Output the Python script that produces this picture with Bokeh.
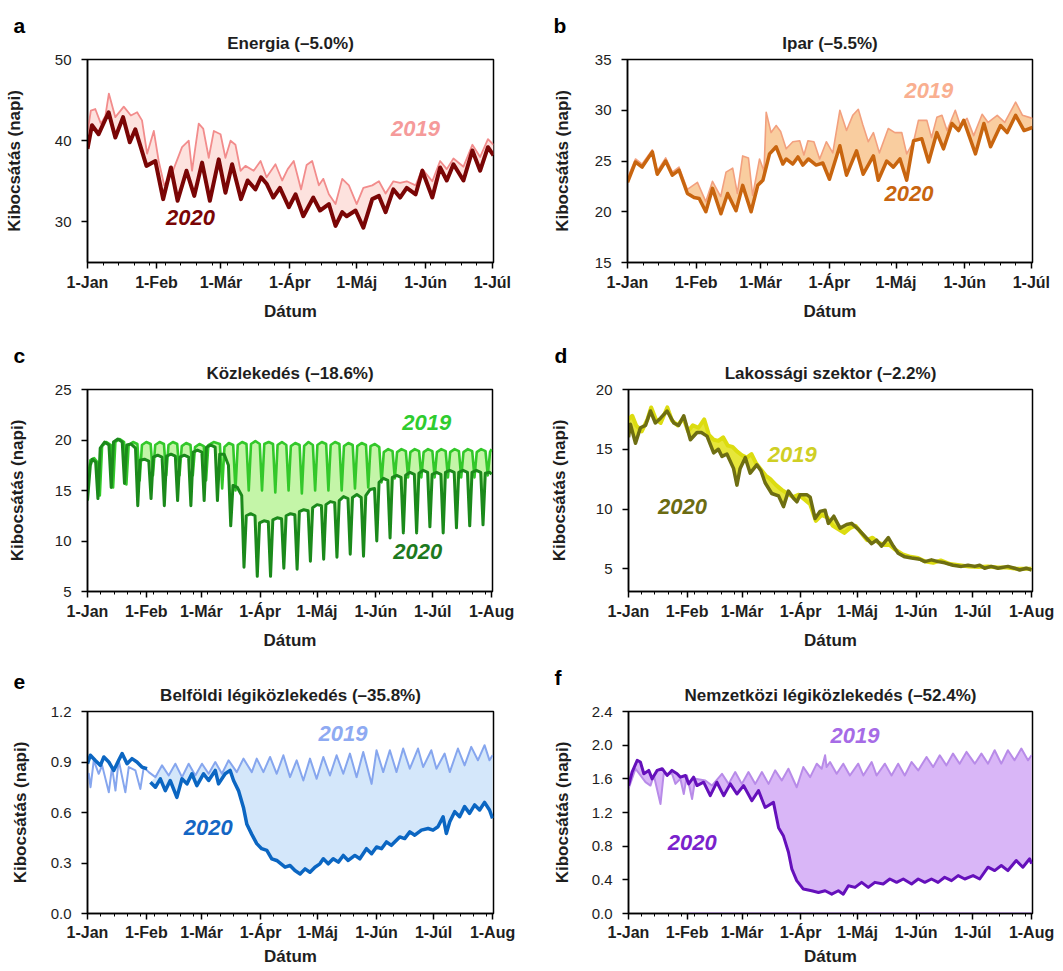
from bokeh.plotting import figure
from bokeh.layouts import column, row
from bokeh.models import FixedTicker, Label, Range1d, PrintfTickFormatter, Title
from bokeh.embed import file_html
from bokeh.resources import INLINE

FONT = "Liberation Sans"

MONTH_DAYS = [0, 31, 60, 91, 121, 152, 182, 213]
MONTH_LABELS = ["1-Jan", "1-Feb", "1-Már", "1-Ápr", "1-Máj", "1-Jún", "1-Júl", "1-Aug"]

# ---------------- a: Energia ----------------
A_DAY_2020 = [0, 2, 5, 9.5, 12.5, 16, 19, 21.5, 26.5, 30.5, 34, 37.5, 40.5, 44.5, 48, 51.5, 55, 59, 62, 65,
              69, 72, 75.5, 78, 80.5, 83.5, 86.5, 90.5, 93.5, 97, 101.5, 104.5, 108.5, 111.5, 114.5, 116.5,
              120.5, 124, 128, 131, 134, 137.5, 140.5, 143.5, 147.5, 150.5, 155, 158.5, 161.5, 164.5, 169,
              173, 176.5, 180, 182.5]
A_VAL_2020 = [39.0, 41.9, 40.8, 43.5, 40.4, 42.9, 39.8, 41.4, 36.9, 37.5, 32.8, 36.7, 32.6, 36.3, 33.2, 37.3,
              32.6, 37.7, 33.6, 37.1, 32.8, 35.1, 34.0, 35.5, 34.7, 33.0, 34.2, 31.8, 33.4, 30.7, 33.0, 31.4,
              32.2, 29.5, 31.2, 30.7, 31.4, 29.3, 32.8, 33.2, 31.2, 34.0, 33.0, 34.2, 33.4, 36.3, 33.0, 36.7,
              35.1, 37.1, 35.1, 38.8, 36.3, 39.2, 38.2]
A_DAY_2019 = [0, 1.5, 3.5, 6, 8, 9.6, 12.5, 16.3, 19.5, 22.3, 24.5, 26.8, 29.8, 32, 34.5, 38, 42.5, 45.5, 47,
              50, 52, 54.5, 56.8, 59.8, 62, 64.3, 66.5, 68.8, 71, 74.7, 77.8, 80.5, 84.5, 87.5, 90, 92.7, 96,
              98.5, 101, 104, 106, 108.5, 111.5, 114.5, 117.5, 121, 124, 128, 131, 134, 137.5, 140.5, 143.5,
              147.5, 150.5, 155, 158.5, 161.5, 164.5, 169, 173, 176.5, 180, 182.5]
A_VAL_2019 = [41.0, 43.7, 43.9, 42.1, 43.0, 45.8, 42.9, 44.2, 43.1, 43.5, 42.5, 38.4, 41.2, 37.5, 34.5, 36.0,
              39.2, 40.0, 36.3, 42.1, 41.5, 37.9, 41.2, 40.8, 37.9, 40.0, 39.5, 36.3, 36.9, 36.3, 37.5, 35.5,
              37.1, 35.1, 36.5, 37.5, 34.0, 37.0, 37.5, 34.5, 35.3, 33.4, 32.2, 35.3, 34.5, 32.2, 34.2, 34.5,
              35.0, 33.5, 35.0, 34.8, 35.0, 34.5, 36.5, 35.0, 37.5, 36.5, 37.8, 36.8, 39.5, 38.0, 40.2, 39.5]

# ---------------- b: Ipar ----------------
B_DAY_2020 = [0, 3.6, 6.6, 11.2, 13.4, 17.2, 20.2, 23.2, 27, 30, 32.3, 35.3, 38.3, 42.1, 45.1, 48.9, 51.9,
              55.7, 58.7, 61, 64, 67, 70, 71.5, 74.5, 76.8, 79, 81.5, 85, 88, 91, 95.7, 98.7, 103.2, 106.2,
              110.8, 113, 116.8, 119.8, 122.8, 125.8, 128.9, 132.6, 135.7, 139.4, 142.4, 146.2, 149.2, 151.5,
              156.8, 160.6, 163.6, 168.1, 171.1, 174.9, 178.7, 182.5]
B_VAL_2020 = [22.9, 24.9, 24.4, 25.9, 23.7, 25.0, 23.6, 24.1, 21.8, 21.4, 21.3, 20.0, 22.3, 19.8, 21.8, 20.1,
              22.6, 20.0, 22.6, 23.1, 25.7, 26.4, 24.7, 25.2, 24.7, 25.4, 24.6, 25.2, 24.6, 24.8, 23.2, 26.5,
              23.6, 26.0, 23.7, 25.5, 23.1, 25.0, 24.4, 25.2, 23.1, 27.0, 27.2, 24.9, 27.8, 26.2, 28.7, 28.0,
              29.0, 25.7, 28.7, 26.4, 28.5, 27.8, 29.5, 28.0, 28.3]
B_DAY_2019 = [0, 3.6, 6.6, 11.2, 13.4, 17.2, 20.2, 23.2, 27, 31.5, 35.3, 38.3, 42, 44.4, 47.4, 49.5, 51.9,
              54.5, 56.4, 59.5, 61.5, 62.5, 64.7, 67, 69, 71.5, 74.5, 77.6, 79.5, 81.3, 84, 86.6, 89.6, 92.5,
              95.7, 98.7, 101.5, 104, 106, 108.5, 110.8, 113.5, 117.5, 120.5, 123.6, 125.8, 128.9, 131.1,
              134.9, 137, 139.4, 141.7, 144, 147.7, 150, 153, 156, 159.8, 162.5, 166.6, 170, 174.9, 178, 182.5]
B_VAL_2019 = [23.3, 25.2, 24.7, 26.1, 24.0, 25.3, 23.9, 24.4, 22.2, 22.9, 21.0, 23.0, 21.5, 23.9, 24.3, 21.8,
              25.5, 25.3, 21.6, 25.2, 24.0, 29.8, 27.8, 28.5, 27.9, 26.2, 26.9, 27.0, 25.6, 27.0, 26.9, 25.2,
              26.9, 25.8, 30.0, 28.0, 29.5, 30.1, 28.6, 26.9, 27.8, 25.8, 28.2, 27.8, 27.8, 25.7, 26.9, 29.0,
              29.0, 27.3, 29.3, 29.5, 28.0, 30.0, 28.5, 29.2, 27.5, 29.6, 28.8, 29.5, 28.8, 30.8, 29.5, 29.2]

# ---------------- c: Közlekedés ----------------
C_DAY_2020 = [0, 1.5, 2.5, 4.3,
              5.5, 6.7, 9, 11.3, 12.5, 13.7, 16, 18.3, 19.5, 20.7, 23, 25.3, 26.5, 27.7, 30, 32.3,
              33.5, 34.7, 37, 39.3, 40.5, 41.7, 44, 46.3, 47.5, 48.7, 51, 53.3, 54.5, 55.7, 58, 60.3,
              61.5, 62.7, 65, 67.3, 68.5, 69.7, 72, 74.3, 75.5, 76.7, 79, 81.3, 82.5, 83.7, 86, 88.3,
              89.5, 90.7, 93, 95.3, 96.5, 97.7, 100, 102.3, 103.5, 104.7, 107, 109.3, 110.5, 111.7, 114, 116.3,
              117.5, 118.7, 121, 123.3, 124.5, 125.7, 128, 130.3, 131.5, 132.7, 135, 137.3, 138.5, 139.7, 142, 144.3,
              145.5, 146.7, 149, 151.3, 152.5, 153.7, 156, 158.3, 159.5, 160.7, 163, 165.3, 166.5, 167.7, 170, 172.3,
              173.5, 174.7, 177, 179.3, 180.5, 181.7, 184, 186.3, 187.5, 188.7, 191, 193.3, 194.5, 195.7, 198, 200.3,
              201.5, 202.7, 205, 207.3, 208.5, 209.7, 212, 213]
C_VAL_2020 = [14.0, 17.5, 18.1, 17.8,
              14.2, 19.2, 19.8, 19.5, 15.3, 19.8, 20.1, 19.8, 15.7, 19.5, 19.6, 19.2, 13.5, 18.0, 18.1, 17.9,
              14.2, 18.3, 18.5, 18.3, 13.5, 18.4, 18.6, 18.4, 14.0, 18.3, 18.5, 18.3, 13.5, 18.8, 19.0, 18.8,
              14.0, 19.3, 19.5, 19.3, 14.0, 18.6, 18.6, 17.5, 11.5, 15.5, 15.3, 14.5, 7.4, 12.5, 12.7, 12.5,
              6.5, 11.8, 12.0, 11.9, 6.5, 12.1, 12.3, 12.2, 7.3, 12.5, 12.7, 12.6, 7.2, 12.9, 13.1, 13.0,
              8.0, 13.3, 13.6, 13.5, 8.2, 13.6, 13.9, 13.8, 8.4, 14.0, 14.4, 14.2, 8.7, 14.3, 14.6, 14.3,
              8.5, 14.5, 15.1, 15.2, 10.0, 15.8, 16.2, 16.0, 10.3, 16.3, 16.5, 16.3, 10.8, 16.5, 16.8, 16.6,
              10.8, 16.7, 17.0, 16.8, 11.4, 16.6, 16.8, 16.6, 10.8, 16.8, 17.0, 16.8, 11.3, 16.8, 17.0, 16.8,
              11.5, 16.8, 17.0, 16.8, 11.6, 16.7, 16.8, 16.6]
C_DAY_2019 = [0, 1.5, 3.5, 5.3,
              6.5, 7.7, 10, 12.3, 13.5, 14.7, 17, 19.3, 20.5, 21.7, 24, 26.3, 27.5, 28.7, 31, 33.3,
              34.5, 35.7, 38, 40.3, 41.5, 42.7, 45, 47.3, 48.5, 49.7, 52, 54.3, 55.5, 56.7, 59, 61.3,
              62.5, 63.7, 66.5, 69.8,
              71, 72.2, 74.5, 76.8, 78, 79.2, 81.5, 83.8, 85, 86.2, 88.5, 90.8, 92, 93.2, 95.5, 97.8,
              99, 100.2, 102.5, 104.8, 106, 107.2, 109.5, 111.8, 113, 114.2, 116.5, 118.8, 120, 121.2, 123.5, 125.8,
              127, 128.2, 130.5, 132.8, 134, 135.2, 137.5, 139.8, 141, 142.2, 144.5, 146.8, 148, 149.2, 151.5, 153.8,
              155, 156.2, 158.5, 160.8, 162, 163.2, 165.5, 167.8, 169, 170.2, 172.5, 174.8, 176, 177.2, 179.5, 181.8,
              183, 184.2, 186.5, 188.8, 190, 191.2, 193.5, 195.8, 197, 198.2, 200.5, 202.8, 204, 205.2, 207.5, 209.8,
              211, 212.2, 213]
C_VAL_2019 = [16.0, 18.0, 18.2, 17.8,
              14.5, 19.4, 19.8, 19.5, 15.3, 19.8, 20.1, 19.8, 15.6, 19.5, 19.8, 19.6, 16.0, 19.5, 19.8, 19.6,
              16.5, 19.5, 19.8, 19.6, 16.5, 19.5, 19.8, 19.6, 16.5, 19.4, 19.7, 19.5, 16.5, 19.3, 19.6, 19.4,
              16.0, 19.5, 19.8, 19.6,
              15.2, 19.3, 19.7, 19.5, 15.0, 19.5, 19.8, 19.6, 15.0, 19.6, 19.9, 19.6, 15.0, 19.6, 19.8, 19.6,
              14.8, 19.5, 19.8, 19.5, 15.0, 19.4, 19.7, 19.5, 14.7, 19.4, 19.8, 19.5, 15.0, 19.5, 19.8, 19.6,
              15.0, 19.5, 19.8, 19.6, 15.0, 19.4, 19.7, 19.5, 15.2, 19.4, 19.7, 19.5, 15.3, 19.4, 19.6, 19.3,
              15.8, 18.8, 19.1, 18.9, 16.2, 18.8, 19.1, 18.9, 16.3, 18.8, 19.1, 18.9, 16.3, 18.8, 19.1, 18.9,
              16.3, 18.8, 19.1, 18.9, 16.3, 18.8, 19.1, 18.9, 16.3, 18.8, 19.1, 18.9, 16.3, 18.8, 19.1, 18.9,
              16.5, 18.8, 19.1]

# ---------------- d: Lakossági szektor ----------------
D_DAY_2020 = [0, 1, 3.7, 6.3, 9, 11.6, 14.2, 16.9, 20.4, 23.9, 26.5, 29.2, 32.7, 36.2, 38.5, 41.5, 45, 47.5,
              49.4, 52, 55.5, 57.3, 59, 61.7, 64.3, 67.8, 70, 72.2, 75.7, 79.3, 81.9, 84.5, 87.2, 89, 90.7,
              94.2, 96, 98.6, 101.2, 103.9, 105.6, 108.5, 111.8, 115.3, 117.9, 121.5, 125, 128.5, 131.1,
              133.7, 137.3, 139.9, 142.5, 146, 149.6, 154, 156.6, 160.1, 163.6, 167.1, 171.5, 175.9, 179.4,
              183, 185.6, 188.2, 191.7, 195.3, 200.5, 204, 206.7, 210.2, 213]
D_VAL_2020 = [16.0, 17.1, 15.5, 16.8, 17.0, 18.2, 17.2, 17.6, 18.2, 17.2, 17.0, 17.8, 15.8, 16.4, 16.4, 16.1,
              14.7, 15.0, 14.4, 14.6, 13.4, 12.0, 13.4, 14.3, 13.0, 13.7, 13.2, 12.2, 11.3, 11.1, 10.2, 11.5,
              10.9, 10.6, 11.2, 11.2, 11.0, 9.2, 9.8, 9.9, 8.8, 9.4, 8.4, 8.7, 8.8, 8.3, 7.7, 7.1, 7.4, 6.9,
              7.6, 6.9, 6.3, 6.0, 5.9, 5.8, 5.6, 5.75, 5.6, 5.5, 5.3, 5.2, 5.3, 5.2, 5.3, 5.05, 5.2, 5.05,
              5.2, 5.05, 4.9, 5.05, 4.9]
D_DAY_2019 = [0, 2, 4, 7, 10, 12, 14.5, 17, 20.5, 23, 26, 29, 31.5, 34, 37, 40, 42.5, 45, 47.5, 50, 52.5, 55,
              57.5, 60, 62.5, 65, 67.5, 70, 72.5, 75, 78, 81, 84, 87, 90, 93, 96, 99, 102, 105, 108, 111, 114,
              117, 120, 123, 126, 129, 132, 135, 138, 141, 145, 149, 153, 157, 161, 165, 170, 175, 180, 185,
              190, 195, 200, 205, 210, 213]
D_VAL_2019 = [17.5, 17.8, 17.0, 16.5, 17.5, 18.5, 17.5, 17.2, 18.5, 17.4, 17.0, 17.6, 16.5, 17.0, 16.8, 17.5,
              16.2, 15.8, 15.7, 16.0, 15.3, 15.2, 14.8, 14.5, 14.3, 14.6, 13.8, 13.3, 12.8, 12.5, 12.0, 11.6,
              11.3, 11.0, 11.2, 10.8, 10.4, 9.0, 9.5, 9.3, 8.6, 8.3, 8.0, 8.4, 8.6, 8.0, 7.4, 7.6, 7.2, 7.0,
              7.0, 6.6, 6.2, 6.0, 5.9, 5.6, 5.5, 5.7, 5.4, 5.3, 5.2, 5.15, 5.2, 5.1, 5.1, 5.0, 5.0, 5.0]

# ---------------- e: Belföldi légiközlekedés ----------------
E_DAY_2020_JAN = [0, 1.5, 4, 6.8, 8.6, 11.2, 13.8, 16.4, 18.2, 20.8, 23.4, 26, 28.6, 31.3]
E_VAL_2020_JAN = [0.89, 0.94, 0.91, 0.88, 0.93, 0.90, 0.85, 0.91, 0.95, 0.89, 0.92, 0.90, 0.87, 0.86]
E_DAY_2020 = [33.1, 35.7, 38.3, 40.9, 43.5, 47.0, 49.7, 52.3, 54.9, 57.5, 61.0, 63.7, 67.2, 68.9, 72.4, 75.0,
              76.8, 79.4, 82.0, 83.8, 86.4, 89.0, 91.6, 94.3, 96.9, 99.5, 103.9, 106.5, 109.1, 111.8, 114.4,
              117.0, 119.6, 122.2, 124.0, 126.6, 129.2, 131.9, 134.5, 137.1, 140.6, 143.2, 146.7, 149.4, 152.0,
              154.6, 157.2, 159.8, 164.2, 166.8, 169.5, 172.1, 175.6, 179.1, 181.7, 184.3, 187.0, 188.7, 190.5,
              193.1, 195.7, 198.3, 200.9, 203.6, 206.2, 208.8, 211.4, 213.0]
E_VAL_2020 = [0.78, 0.75, 0.80, 0.73, 0.79, 0.69, 0.80, 0.77, 0.83, 0.76, 0.83, 0.79, 0.85, 0.77, 0.83, 0.85,
              0.79, 0.73, 0.63, 0.53, 0.47, 0.415, 0.385, 0.375, 0.325, 0.315, 0.275, 0.285, 0.255, 0.235, 0.265,
              0.245, 0.275, 0.295, 0.325, 0.295, 0.325, 0.305, 0.345, 0.315, 0.345, 0.325, 0.385, 0.355, 0.395,
              0.385, 0.425, 0.405, 0.455, 0.445, 0.485, 0.465, 0.495, 0.505, 0.495, 0.515, 0.575, 0.475, 0.545,
              0.605, 0.575, 0.635, 0.595, 0.645, 0.615, 0.66, 0.615, 0.565]
E_DAY_2019 = [0, 0.7, 1.6, 3.3, 5.9, 7.7, 11.2, 12.9, 14.7, 16.4, 19.9, 21.7, 25.2, 27.8, 29.6, 32.2, 35.7,
              39.2, 42.7, 46.2, 49.7, 53.2, 56.7, 60.2, 63.7, 67.2, 70.7, 74.2, 78.5, 82.0, 86.4, 89.0, 92.5,
              96.0, 99.5, 103.0, 106.5, 110.0, 113.5, 117.0, 120.5, 124.0, 127.5, 131.0, 134.5, 138.0, 141.5,
              145.0, 149.4, 152.0, 155.5, 159.0, 162.5, 166.0, 169.5, 173.8, 176.5, 180.8, 183.5, 187.8, 190.5,
              194.8, 198.3, 201.8, 205.3, 208.8, 211.4, 213.0]
E_VAL_2019 = [0.80, 0.83, 0.75, 0.91, 0.83, 0.88, 0.72, 0.87, 0.73, 0.91, 0.72, 0.87, 0.85, 0.74, 0.87, 0.84,
              0.81, 0.88, 0.82, 0.89, 0.81, 0.89, 0.82, 0.89, 0.83, 0.90, 0.83, 0.91, 0.84, 0.92, 0.84, 0.92,
              0.84, 0.93, 0.83, 0.94, 0.81, 0.91, 0.79, 0.92, 0.80, 0.93, 0.82, 0.94, 0.83, 0.95, 0.81, 0.96,
              0.77, 0.97, 0.84, 0.97, 0.84, 0.98, 0.86, 0.98, 0.87, 0.97, 0.86, 0.95, 0.84, 0.98, 0.88, 0.99,
              0.91, 1.00, 0.91, 0.94]

# ---------------- f: Nemzetközi légiközlekedés ----------------
F_DAY_2020 = [0, 1.9, 4.6, 6.3, 8.1, 10.7, 12.5, 15.1, 17.8, 20.4, 23.0, 25.7, 27.4, 30.1, 31.8, 34.4, 36.2,
              39.7, 43.2, 46.7, 50.3, 53.8, 57.3, 60.8, 65.2, 68.7, 72.2, 76.6, 79.3, 81.9, 84.5, 86.3, 88.9,
              92.4, 96.8, 100.4, 103.9, 107.4, 110.9, 113.5, 116.2, 119.7, 123.2, 126.7, 130.2, 134.6, 138.1,
              141.7, 145.2, 149.6, 153.1, 156.6, 160.1, 163.6, 167.1, 170.7, 174.2, 177.7, 182.1, 185.6, 190.0,
              193.5, 197.0, 200.5, 204.9, 208.4, 212.0, 213.0]
F_VAL_2020 = [1.52, 1.68, 1.82, 1.80, 1.66, 1.70, 1.60, 1.70, 1.72, 1.64, 1.70, 1.66, 1.62, 1.64, 1.54, 1.62,
              1.52, 1.56, 1.40, 1.56, 1.40, 1.54, 1.42, 1.52, 1.34, 1.46, 1.26, 1.32, 1.02, 0.92, 0.73, 0.53,
              0.39, 0.29, 0.27, 0.25, 0.27, 0.23, 0.27, 0.23, 0.33, 0.31, 0.37, 0.31, 0.37, 0.35, 0.41, 0.37,
              0.41, 0.35, 0.41, 0.37, 0.41, 0.37, 0.43, 0.39, 0.45, 0.41, 0.45, 0.41, 0.55, 0.51, 0.57, 0.51,
              0.63, 0.55, 0.65, 0.59]
F_DAY_2019 = [0, 3.7, 9.0, 11.6, 13.4, 16.9, 18.6, 23.0, 24.8, 27.4, 29.2, 30.9, 33.6, 35.3, 40.6, 44.1, 49.4,
              52.9, 56.4, 59.9, 63.4, 67.0, 70.5, 74.0, 77.5, 81.0, 84.5, 88.9, 92.4, 96.0, 99.5, 102.1, 103.9,
              104.7, 106.5, 110.0, 113.5, 117.0, 121.4, 124.1, 128.5, 131.1, 135.5, 139.0, 142.5, 146.0, 149.6,
              153.1, 157.5, 161.0, 164.5, 168.0, 171.5, 175.0, 178.6, 183.0, 186.5, 190.0, 193.5, 197.0, 200.5,
              204.0, 207.6, 211.1, 213.0]
F_VAL_2019 = [1.48, 1.72, 1.56, 1.52, 1.64, 1.30, 1.66, 1.66, 1.54, 1.60, 1.42, 1.64, 1.36, 1.60, 1.58, 1.52,
              1.66, 1.54, 1.68, 1.54, 1.68, 1.54, 1.68, 1.54, 1.70, 1.58, 1.72, 1.50, 1.74, 1.62, 1.78, 1.72,
              1.88, 1.74, 1.80, 1.66, 1.78, 1.64, 1.78, 1.64, 1.80, 1.64, 1.78, 1.64, 1.78, 1.64, 1.80, 1.70,
              1.86, 1.74, 1.88, 1.76, 1.90, 1.78, 1.92, 1.78, 1.90, 1.78, 1.94, 1.78, 1.94, 1.82, 1.96, 1.82,
              1.88]
F_BASE_DAY = [32, 213]
F_BASE_VAL = [0.0, 0.0]


def make_panel(letter, title, xmax, n_months, yr, yticks, yfmt, fw, fh, bl, br, bt, bb,
               als_y, tick_so, als_x, letter_dx):
    p = figure(frame_width=fw, frame_height=fh, min_border_left=bl, min_border_right=br,
               min_border_top=bt, min_border_bottom=bb, x_range=Range1d(0, xmax),
               y_range=Range1d(yr[0], yr[1]), output_backend="svg", toolbar_location=None,
               title=None)
    p.background_fill_color = "white"
    p.border_fill_color = "white"
    p.outline_line_color = "black"
    p.outline_line_width = 1.5
    p.xgrid.visible = False
    p.ygrid.visible = False

    main_title = Title(text=title, align="center", text_font=FONT, text_font_size="17px",
                       text_font_style="bold", text_color="#1e1e1e", standoff=14)
    p.add_layout(main_title, "above")
    letter_title = Title(text=letter, align="left", offset=letter_dx, text_font=FONT,
                         text_font_size="21px", text_font_style="bold", text_color="black")
    try:
        letter_title.standoff = -24
    except Exception:
        letter_title.standoff = 0
    p.add_layout(letter_title, "above")

    for ax in (p.xaxis[0], p.yaxis[0]):
        ax.axis_line_width = 1.5
        ax.axis_line_color = "black"
        ax.major_tick_line_width = 1.5
        ax.major_tick_line_color = "black"
        ax.major_tick_in = 0
        ax.major_tick_out = 6
        ax.minor_tick_in = 0
        ax.minor_tick_out = 3
        ax.minor_tick_line_color = "black"
        ax.minor_tick_line_width = 1
        ax.major_label_text_font = FONT
        ax.major_label_text_font_size = "15px"
        ax.major_label_text_color = "#1e1e1e"
        ax.axis_label_text_font = FONT
        ax.axis_label_text_font_size = "17px"
        ax.axis_label_text_font_style = "bold"
        ax.axis_label_text_color = "#1e1e1e"

    xa = p.xaxis[0]
    xa.ticker = FixedTicker(ticks=MONTH_DAYS[:n_months],
                            minor_ticks=list(range(0, int(xmax) + 1, 7)))
    xa.major_label_overrides = {MONTH_DAYS[i]: MONTH_LABELS[i] for i in range(n_months)}
    xa.major_label_text_font_style = "bold"
    xa.major_label_text_font_size = "16px"
    xa.major_label_standoff = tick_so
    xa.axis_label = "Dátum"
    xa.axis_label_standoff = als_x

    ya = p.yaxis[0]
    ya.ticker = FixedTicker(ticks=yticks)
    ya.formatter = PrintfTickFormatter(format=yfmt)
    ya.minor_tick_line_color = None
    ya.major_label_standoff = 10
    ya.axis_label = "Kibocsátás (napi)"
    ya.axis_label_standoff = als_y
    return p


def add_year_labels(p, pos19, pos20, c19, c20):
    for (x, y), t, c in ((pos19, "2019", c19), (pos20, "2020", c20)):
        p.add_layout(Label(x=x, y=y, text=t, text_font=FONT, text_font_size="22px",
                           text_font_style="bold italic", text_color=c, text_align="center",
                           text_baseline="middle"))


def draw_pair(p, d19, v19, d20, v20, c19, c20, cfill, w19, w20):
    p.patch(x=list(d19) + list(d20)[::-1], y=list(v19) + list(v20)[::-1],
            fill_color=cfill, line_color=None)
    p.line(d19, v19, line_color=c19, line_width=w19, line_join="round")
    p.line(d20, v20, line_color=c20, line_width=w20, line_join="round")


# a
pa = make_panel("a", "Energia (–5.0%)", 182.5, 7, (25, 50), [30, 40, 50], "%d",
                406, 203, 87, 42, 59, 62, 28, 5, 8, -74)
draw_pair(pa, A_DAY_2019, A_VAL_2019, A_DAY_2020, A_VAL_2020,
          "#F28C8C", "#7A0505", "#FDE2DE", 1.8, 4)
add_year_labels(pa, (147.4, 41.5), (46.3, 30.5), "#F59A9A", "#7A0505")

# b
pb = make_panel("b", "Ipar (–5.5%)", 182.5, 7, (15, 35), [15, 20, 25, 30, 35], "%d",
                405, 203, 92, 23, 59, 62, 20, 5, 8, -74)
draw_pair(pb, B_DAY_2019, B_VAL_2019, B_DAY_2020, B_VAL_2020,
          "#F2A07E", "#C8650F", "#F9CD9F", 1.6, 3.5)
add_year_labels(pb, (135.8, 31.95), (126.8, 21.8), "#F9AF90", "#C8650F")

# c
pc = make_panel("c", "Közlekedés (–18.6%)", 213.5, 8, (5, 25), [5, 10, 15, 20, 25], "%d",
                405, 202, 87, 43, 65, 62, 25, 5, 8, -74)
draw_pair(pc, C_DAY_2019, C_VAL_2019, C_DAY_2020, C_VAL_2020,
          "#33C82A", "#1B8A1B", "#C4F5A8", 2.6, 3)
add_year_labels(pc, (178.8, 21.75), (174.1, 9.0), "#2FCC2F", "#1E7A1E")

# d
pd = make_panel("d", "Lakossági szektor (–2.2%)", 213.5, 8, (3.1, 20), [5, 10, 15, 20], "%d",
                404, 202, 93, 23, 64, 63, 24, 5, 8, -74)
draw_pair(pd, D_DAY_2019, D_VAL_2019, D_DAY_2020, D_VAL_2020,
          "#DCDC10", "#6E6E12", "#E6E63A", 4, 3.5)
add_year_labels(pd, (86.5, 14.6), (28.5, 10.2), "#CFCF25", "#6B6B12")

# e
pe = make_panel("e", "Belföldi légiközlekedés (–35.8%)", 213.5, 8, (0, 1.2),
                [0.0, 0.3, 0.6, 0.9, 1.2], "%.1f",
                406, 202, 87, 42, 58, 56, 18, 4, 3, -74)
e_fill_d19 = [d for d in E_DAY_2019 if d >= 33]
e_fill_v19 = [v for d, v in zip(E_DAY_2019, E_VAL_2019) if d >= 33]
pe.patch(x=e_fill_d19 + E_DAY_2020[::-1], y=e_fill_v19 + E_VAL_2020[::-1],
         fill_color="#D4E7FA", line_color=None)
pe.line(E_DAY_2019, E_VAL_2019, line_color="#86A6EE", line_width=2, line_join="round")
pe.line(E_DAY_2020_JAN, E_VAL_2020_JAN, line_color="#0B66C2", line_width=3.5, line_join="round")
pe.line(E_DAY_2020, E_VAL_2020, line_color="#0B66C2", line_width=3.5, line_join="round")
add_year_labels(pe, (134.3, 1.07), (63.5, 0.51), "#8EAAF2", "#1466C4")

# f
pf = make_panel("f", "Nemzetközi légiközlekedés (–52.4%)", 213.5, 8, (0, 2.4),
                [0.0, 0.4, 0.8, 1.2, 1.6, 2.0, 2.4], "%.1f",
                404, 202, 93, 23, 56, 58, 17, 4, 3, -74)
draw_pair(pf, F_DAY_2019, F_VAL_2019, F_DAY_2020, F_VAL_2020,
          "#B88BE8", "#6510BB", "#D9B6F7", 2, 3)
pf.line(F_BASE_DAY, F_BASE_VAL, line_color="#C9A0F0", line_width=2.5)
add_year_labels(pf, (119.7, 2.12), (33.7, 0.845), "#A66BE6", "#7A22CC")

layout = column(row(pa, pb), row(pc, pd), row(pe, pf))

with open("out.html", "w") as fh:
    fh.write(file_html(layout, INLINE))
